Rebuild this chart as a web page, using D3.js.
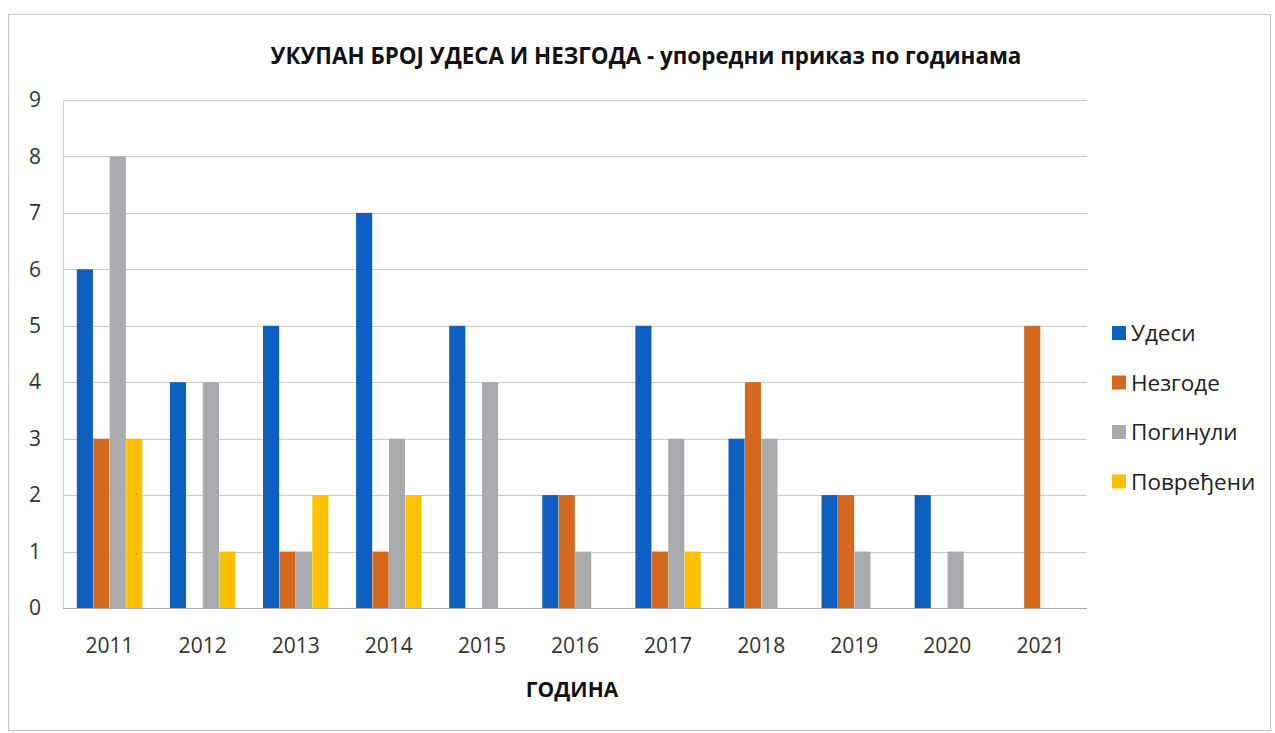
<!DOCTYPE html>
<html lang="sr">
<head>
<meta charset="UTF-8">
<title>Укупан број удеса и незгода</title>
<script src="https://d3js.org/d3.v7.min.js"></script>
<style>
    body { margin: 0; background: #fff; }
    svg { display: block; }
    .title { font-family: "Open Sans", sans-serif; font-weight: bold; font-size: 22.4px; fill: #111; }
    .legend text { font-family: "Open Sans", sans-serif; font-size: 22.5px; fill: #222; }
</style>
</head>
<body>
<div id="chart"></div>
<script>
    const years = ["2011","2012","2013","2014","2015","2016","2017","2018","2019","2020","2021"];
    const seriesNames = ["Удеси", "Незгоде", "Погинули", "Повређени"];
    const udesi     = [6, 4, 5, 7, 5, 2, 5, 3, 2, 2, 0];
    const nezgode   = [3, 0, 1, 1, 0, 2, 1, 4, 2, 0, 5];
    const poginuli  = [8, 4, 1, 3, 4, 1, 3, 3, 1, 1, 0];
    const povredjeni = [3, 1, 2, 2, 0, 0, 1, 0, 0, 0, 0];
    const yTicks = [0, 1, 2, 3, 4, 5, 6, 7, 8, 9];
    const colors = ["#0d5fc2", "#d4691e", "#a8aaad", "#fdc100"];

    const seriesValues = [udesi, nezgode, poginuli, povredjeni];

    const W = 1275, H = 733;
    const margin = { top: 100, right: 188, bottom: 125, left: 63 };
    const width = W - margin.left - margin.right,
          height = H - margin.top - margin.bottom;

    const svg = d3.select("#chart").append("svg")
        .attr("width", W).attr("height", H);

    // outer frame
    svg.append("rect")
        .attr("x", 8.5).attr("y", 14.5)
        .attr("width", 1262).attr("height", 716)
        .attr("fill", "none").attr("stroke", "#c4c4c4");

    svg.append("text")
        .attr("class", "title")
        .attr("x", 646).attr("y", 64)
        .attr("text-anchor", "middle")
        .text("УКУПАН БРОЈ УДЕСА И НЕЗГОДА - упоредни приказ по годинама");

    const g = svg.append("g").attr("transform", `translate(${margin.left},${margin.top})`);

    const x0 = d3.scaleBand().domain(years).range([0, width]).paddingInner(0.29).paddingOuter(0.145);
    const x1 = d3.scaleBand().domain(seriesNames).range([0, x0.bandwidth()]).padding(0.02);
    const y = d3.scaleLinear().domain([0, 9]).range([height, 0]);

    // grid
    g.selectAll(".grid").data(yTicks).enter().append("line")
        .attr("x1", 0).attr("x2", width)
        .attr("y1", d => Math.round(y(d)) + 0.5).attr("y2", d => Math.round(y(d)) + 0.5)
        .attr("stroke", d => d === 0 ? "#a9a9a9" : "#c9c9c9");
    g.append("line").attr("x1", 0.5).attr("x2", 0.5).attr("y1", 0).attr("y2", height)
        .attr("stroke", "#d0d0d0");

    // bars
    const groups = g.selectAll(".year").data(years).enter().append("g")
        .attr("transform", d => `translate(${x0(d)},0)`);
    groups.selectAll("rect")
        .data((yr, i) => seriesNames.map((s, k) => ({ s, v: seriesValues[k][i], c: colors[k] })))
        .enter().append("rect")
        .attr("x", d => x1(d.s))
        .attr("width", x1.bandwidth())
        .attr("y", d => y(d.v))
        .attr("height", d => height - y(d.v))
        .attr("fill", d => d.c);

    // axes
    const yAxis = g.append("g")
        .call(d3.axisLeft(y).tickValues(yTicks).tickSize(0).tickPadding(28).tickFormat(d3.format("d")));
    yAxis.select(".domain").remove();
    yAxis.selectAll("text").attr("text-anchor", "middle");

    const xAxis = g.append("g").attr("transform", `translate(0,${height})`)
        .call(d3.axisBottom(x0).tickSize(0).tickPadding(30));
    xAxis.select(".domain").remove();

    g.selectAll(".tick text")
        .attr("font-family", "'Open Sans', sans-serif")
        .attr("font-size", 21)
        .attr("fill", "#333");

    svg.append("text")
        .attr("x", 572).attr("y", 697)
        .attr("text-anchor", "middle")
        .style("font-family", "'Open Sans', sans-serif")
        .style("font-weight", "bold").style("font-size", "21px").attr("fill", "#111")
        .text("ГОДИНА");

    // legend
    const legend = svg.append("g").attr("class", "legend")
        .attr("transform", "translate(1112,333)");
    const li = legend.selectAll("g").data(seriesNames).enter().append("g")
        .attr("transform", (d, i) => `translate(0,${i * 49.5})`);
    li.append("rect").attr("x", 0).attr("y", -7).attr("width", 14).attr("height", 14)
        .attr("fill", (d, i) => colors[i]);
    li.append("text").attr("x", 19).attr("y", 8).text(d => d);
</script>
</body>
</html>
